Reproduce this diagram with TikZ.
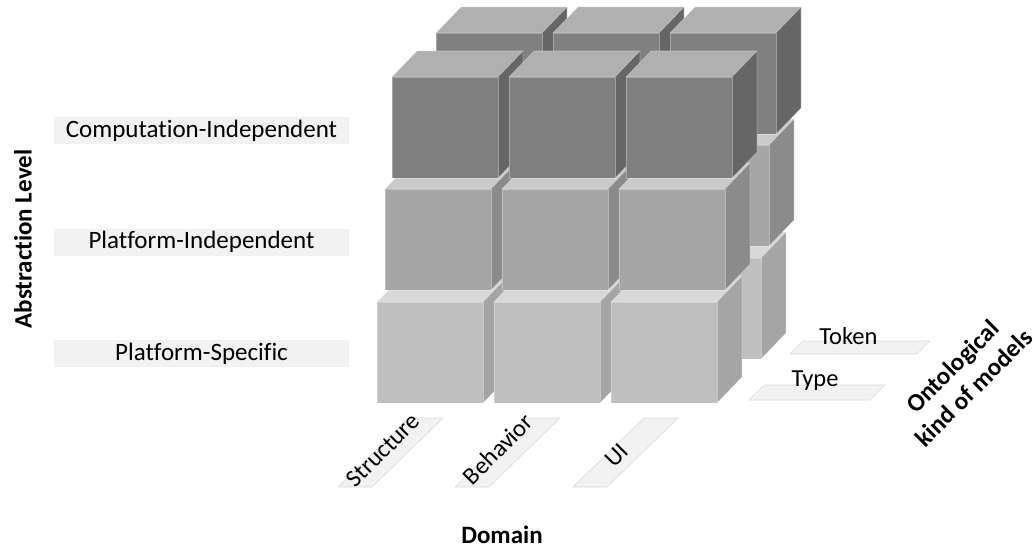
\documentclass[tikz,border=0pt]{standalone}
\usepackage{fontspec}
\setmainfont{Carlito}[Ligatures=NoCommon]
\definecolor{hiF}{HTML}{808080}
\definecolor{hiS}{HTML}{666666}
\definecolor{hiT}{HTML}{B0B0B0}
\definecolor{midF}{HTML}{A6A6A6}
\definecolor{midS}{HTML}{8B8B8B}
\definecolor{midT}{HTML}{CACACA}
\definecolor{loF}{HTML}{BFBFBF}
\definecolor{loS}{HTML}{A5A5A5}
\definecolor{loT}{HTML}{D8D8D8}
\definecolor{boxfill}{HTML}{F2F2F2}
\definecolor{boxline}{HTML}{DADADA}
% one block: top-left corner of the front face, then front/side/top colours
\newcommand\drawblock[5]{%
  \filldraw[facestyle, fill=#5] (#1,#2) -- ++(25,-26) -- ++(106,0) -- ++(-25,26) -- cycle;
  \filldraw[facestyle, fill=#4] (#1+106,#2) -- ++(25,-26) -- ++(0,101) -- ++(-25,26) -- cycle;
  \filldraw[facestyle, fill=#3] (#1,#2) rectangle ++(106,101);
}
\begin{document}
\begin{tikzpicture}[x=1pt,y=-1pt,
  facestyle/.style={draw=white, draw opacity=0.3, line width=0.6pt},
  lvlbox/.style={fill=boxfill, minimum width=295pt, minimum height=27pt, inner sep=0pt,
    font=\fontsize{25}{29}\selectfont},
  axislabel/.style={font=\fontsize{25}{30}\selectfont\bfseries, inner sep=0pt},
  plainlabel/.style={font=\fontsize{24.5}{28}\selectfont, inner sep=0pt},
  slantbox/.style={fill=boxfill, draw=boxline, line width=0.6pt}]
\useasboundingbox (0,0) rectangle (1033,548);

% back row (token), lowest level first
\foreach \x in {421,538,655} {\drawblock{\x}{258}{loF}{loS}{loT}}
\foreach \x in {429,546,663} {\drawblock{\x}{145}{midF}{midS}{midT}}
\foreach \x in {436,553,670} {\drawblock{\x}{33}{hiF}{hiS}{hiT}}
% front row (type)
\foreach \x in {377,494,611} {\drawblock{\x}{302}{loF}{loS}{loT}}
\foreach \x in {385,502,619} {\drawblock{\x}{189}{midF}{midS}{midT}}
\foreach \x in {392,509,626} {\drawblock{\x}{77}{hiF}{hiS}{hiT}}

% abstraction levels
\node[axislabel, rotate=90] (abs) at (23,239) {Abstraction Level};
\node[lvlbox] (cim) at (201.5,130.5) {Computation-Independent};
\node[lvlbox] (pim) at (201.5,242) {Platform-Independent};
\node[lvlbox] (psm) at (201.5,353.5) {Platform-Specific};

% domains
\foreach \x in {0,117,235} {
  \filldraw[slantbox] (338+\x,487) -- (372+\x,487) -- (443+\x,418) -- (409+\x,418) -- cycle;
}
\node[plainlabel, rotate=45] (dstr) at (383,450) {Structure};
\node[plainlabel, rotate=45] (dbeh) at (498,449) {Behavior};
\node[plainlabel, rotate=45] (dui) at (617,455) {UI};
\node[axislabel] (dom) at (502,535) {Domain};

% ontological kinds
\filldraw[slantbox] (790,354) -- (917,354) -- (930,341) -- (803,341) -- cycle;
\filldraw[slantbox] (749,400) -- (870,400) -- (885,385) -- (764,385) -- cycle;
\node[plainlabel, anchor=base] (tok) at (848.5,344) {Token};
\node[plainlabel, anchor=base] (typ) at (815,386) {Type};
\node[axislabel, rotate=45, align=center] (onto) at (963,377) {Ontological\\kind of models};
\end{tikzpicture}
\end{document}
